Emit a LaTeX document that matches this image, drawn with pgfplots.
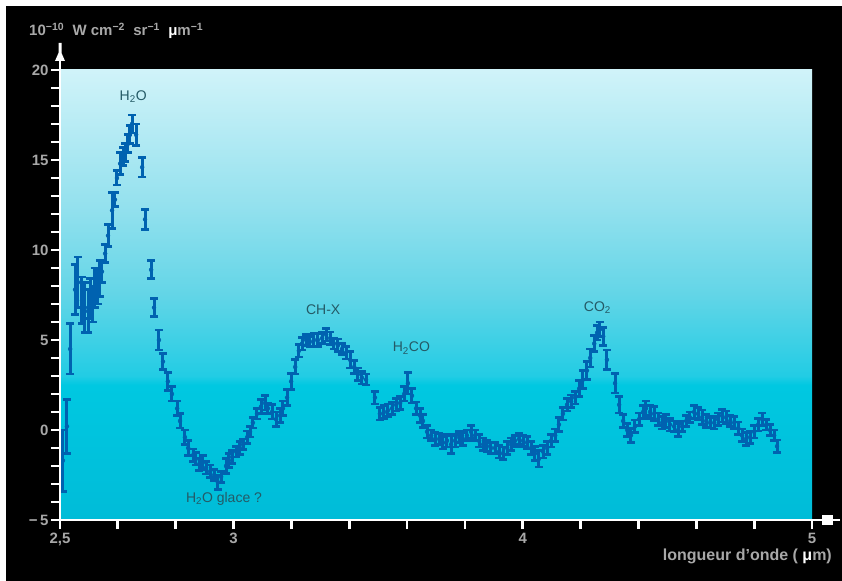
\documentclass[border=0pt]{standalone}
\usepackage{fontspec}
\setmainfont{Liberation Sans}
\usepackage{pgfplots}
\pgfplotsset{compat=1.18}
\definecolor{databl}{HTML}{0062B0}
\definecolor{labgray}{HTML}{A8A8A8}
\definecolor{anncol}{HTML}{245A66}
\definecolor{c0}{HTML}{00BCD8}
\definecolor{c1}{HTML}{00C8E1}
\definecolor{c2}{HTML}{22CCE4}
\definecolor{c3}{HTML}{62D5E7}
\definecolor{c4}{HTML}{94E1EE}
\definecolor{c5}{HTML}{D0F3F9}
\pgfdeclareverticalshading{bgshade}{100bp}{color(0bp)=(c0); color(25bp)=(c0); color(40bp)=(c1); color(41bp)=(c2); color(50bp)=(c3); color(60bp)=(c4); color(75bp)=(c5); color(100bp)=(c5)}
\pgfplotstableread{
x y e
2.410 -1.7 1.7
2.424 0.2 1.5
2.435 4.5 1.4
2.452 7.8 1.4
2.462 8.2 1.4
2.476 7.2 1.3
2.486 6.8 1.4
2.497 6.6 1.2
2.504 7.3 1.1
2.514 7.0 1.0
2.521 7.9 1.1
2.531 8.0 1.0
2.538 8.4 1.0
2.545 8.8 0.6
2.556 9.8 0.5
2.566 10.8 0.6
2.580 12.2 1.0
2.590 12.8 0.4
2.597 14.0 0.4
2.608 14.8 0.6
2.618 15.2 0.5
2.625 15.4 0.5
2.635 15.9 0.5
2.642 16.4 0.5
2.649 17.0 0.5
2.663 16.4 0.6
2.684 14.6 0.55
2.694 11.7 0.55
2.715 8.9 0.5
2.725 6.8 0.5
2.742 5.0 0.55
2.756 3.8 0.45
2.773 2.7 0.5
2.787 2.0 0.4
2.805 1.2 0.4
2.815 0.5 0.4
2.832 -0.4 0.4
2.843 -1.0 0.4
2.860 -1.4 0.35
2.870 -1.6 0.35
2.881 -1.9 0.35
2.894 -1.8 0.4
2.905 -2.1 0.35
2.919 -2.3 0.35
2.933 -2.5 0.3
2.946 -2.9 0.4
2.957 -2.6 0.3
2.974 -2.0 0.4
2.984 -1.7 0.4
2.995 -1.5 0.35
3.009 -1.2 0.3
3.022 -1.0 0.35
3.033 -0.8 0.3
3.047 -0.4 0.35
3.057 -0.1 0.3
3.067 0.4 0.3
3.081 0.9 0.3
3.095 1.3 0.4
3.109 1.5 0.4
3.119 1.2 0.3
3.133 1.0 0.4
3.147 0.6 0.4
3.161 0.8 0.4
3.171 1.2 0.4
3.185 1.8 0.45
3.199 2.7 0.45
3.213 3.5 0.4
3.226 4.4 0.35
3.237 4.8 0.35
3.251 5.0 0.3
3.264 4.9 0.3
3.278 5.0 0.35
3.292 5.0 0.35
3.306 5.1 0.3
3.320 5.3 0.35
3.334 5.1 0.35
3.347 4.8 0.3
3.361 4.7 0.35
3.375 4.5 0.3
3.389 4.3 0.35
3.403 3.9 0.45
3.417 3.5 0.35
3.430 3.1 0.35
3.444 2.9 0.35
3.458 2.8 0.3
3.489 1.8 0.35
3.506 0.9 0.35
3.520 1.0 0.35
3.534 1.1 0.35
3.548 1.2 0.35
3.562 1.4 0.35
3.576 1.5 0.35
3.590 2.0 0.4
3.603 2.6 0.6
3.617 1.9 0.4
3.631 1.2 0.35
3.645 0.8 0.4
3.655 0.5 0.35
3.669 -0.1 0.35
3.683 -0.3 0.3
3.697 -0.5 0.35
3.711 -0.5 0.3
3.724 -0.7 0.35
3.738 -0.6 0.35
3.752 -0.8 0.5
3.766 -0.6 0.35
3.780 -0.4 0.3
3.793 -0.5 0.35
3.807 -0.3 0.3
3.821 -0.1 0.35
3.835 -0.3 0.3
3.849 -0.6 0.35
3.863 -0.8 0.35
3.876 -0.9 0.3
3.890 -1.0 0.3
3.904 -1.0 0.3
3.918 -1.2 0.35
3.932 -1.3 0.35
3.946 -1.0 0.35
3.960 -0.8 0.35
3.973 -0.6 0.3
3.987 -0.5 0.3
4.001 -0.6 0.3
4.015 -0.7 0.35
4.029 -1.0 0.35
4.042 -1.3 0.4
4.056 -1.6 0.45
4.070 -1.2 0.35
4.084 -1.0 0.35
4.098 -0.6 0.35
4.112 -0.3 0.35
4.125 0.3 0.4
4.139 0.9 0.35
4.153 1.4 0.35
4.167 1.6 0.35
4.181 1.8 0.35
4.195 2.3 0.45
4.208 2.8 0.5
4.222 3.3 0.5
4.233 4.0 0.5
4.247 4.8 0.45
4.257 5.4 0.4
4.267 5.6 0.4
4.278 5.2 0.5
4.291 3.9 0.55
4.319 2.6 0.55
4.333 1.4 0.45
4.347 0.5 0.35
4.361 0.0 0.35
4.374 -0.3 0.4
4.388 0.2 0.35
4.402 0.6 0.35
4.416 1.0 0.35
4.426 1.2 0.4
4.440 1.0 0.35
4.454 0.9 0.4
4.468 0.6 0.35
4.482 0.4 0.35
4.495 0.5 0.35
4.509 0.3 0.35
4.523 0.2 0.3
4.537 0.0 0.35
4.551 0.2 0.3
4.565 0.5 0.3
4.578 0.7 0.3
4.592 1.0 0.35
4.606 0.9 0.35
4.620 0.7 0.4
4.634 0.5 0.35
4.648 0.4 0.3
4.662 0.4 0.35
4.675 0.6 0.35
4.689 0.8 0.35
4.703 0.7 0.35
4.717 0.5 0.3
4.731 0.4 0.35
4.745 0.1 0.35
4.758 -0.3 0.35
4.772 -0.5 0.35
4.786 -0.4 0.35
4.800 -0.1 0.35
4.814 0.3 0.35
4.828 0.6 0.35
4.842 0.3 0.3
4.855 0.0 0.3
4.869 -0.3 0.3
4.879 -0.9 0.35
}\spectrum
\begin{document}
\begin{tikzpicture}
\path[use as bounding box, fill=white] (-60bp,-61bp) rectangle (782bp,520bp);
\fill[black] (-54bp,-61bp) rectangle (782bp,514bp);
\begin{axis}[
  scale only axis, width=752bp, height=450bp,
  xmin=2.4, xmax=5.0, ymin=-5, ymax=20,
  axis x line*=bottom, axis y line*=left,
  axis line style={draw=none},
  axis background/.style={shade, shading=bgshade},
  tick align=outside,
  major tick length=9bp, minor tick length=9bp,
  tick style={white, line width=2.8bp},
  xtick={2.4,2.6,2.8,3.0,3.2,3.4,3.6,3.8,4.0,4.2,4.4,4.6,4.8,5.0},
  xticklabels={{2,5},,,3,,,,,4,,,,,5},
  ytick={-5,0,5,10,15,20},
  yticklabels={−\,5,0,5,10,15,20},
  minor ytick={-4,-3,-2,-1,1,2,3,4,6,7,8,9,11,12,13,14,16,17,18,19},
  tick label style={font=\fontsize{15bp}{15bp}\selectfont\bfseries, text=labgray},
  yticklabel style={xshift=1bp},
  xticklabel style={yshift=-1bp},
  clip=false,
]
\addplot[only marks, mark=none, color=databl,
  error bars/.cd, y dir=both, y explicit, error mark=|,
  error bar style={line width=3bp, color=databl},
  error mark options={line width=2.6bp, mark size=4bp, color=databl}]
  table[x=x, y=y, y error=e] {\spectrum};
\begin{scope}[every node/.style={font=\fontsize{14bp}{14bp}\selectfont, text=anncol, inner sep=0pt}]
\node at (axis cs:2.653,18.5) {H\textsubscript{2}O};
\node at (axis cs:3.31,6.67) {CH-X};
\node at (axis cs:3.615,4.55) {H\textsubscript{2}CO};
\node at (axis cs:4.258,6.8) {CO\textsubscript{2}};
\node at (axis cs:2.967,-3.83) {H\textsubscript{2}O glace ?};
\end{scope}
\end{axis}
\draw[white, line width=2.8bp] (-1.4bp,0) -- (780bp,0);
\fill[white] (762bp,-4.5bp) rectangle (773bp,4.5bp);
\draw[white, line width=2.8bp] (0,-1.4bp) -- (0,462bp);
\fill[white] (-5bp,459bp) -- (5bp,459bp) -- (1.5bp,467bp) -- (1.5bp,477bp) -- (-1.5bp,477bp) -- (-1.5bp,467bp) -- cycle;
\node[anchor=west, inner sep=0pt, font=\fontsize{15bp}{15bp}\selectfont\bfseries, text=labgray] at (-31bp,489bp)
  {10\textsuperscript{−10}\ \ W cm\textsuperscript{−2}\ \ sr\textsuperscript{−1}\ \ {\color{white}μ}m\textsuperscript{−1}};
\node[anchor=east, inner sep=0pt, font=\fontsize{16bp}{16bp}\selectfont\bfseries, text=labgray] at (772bp,-36bp)
  {longueur d'onde ( {\color{white}μ}m)};
\end{tikzpicture}
\end{document}
